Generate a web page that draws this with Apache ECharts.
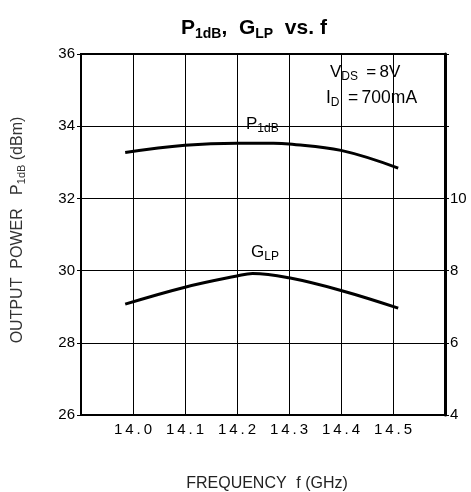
<!DOCTYPE html>
<html>
<head>
<meta charset="utf-8">
<script src="https://cdn.jsdelivr.net/npm/echarts@6/dist/echarts.min.js"></script>
<style>
  html, body { margin: 0; padding: 0; background: #fff; }
  #main { width: 471px; height: 492px; }
</style>
</head>
<body>
<div id="main"></div>
<script>
// values
const freqTicks = ['14.0', '14.1', '14.2', '14.3', '14.4', '14.5'];
const p1dbFreq = [13.985, 14.1, 14.2, 14.27, 14.3, 14.4, 14.51];
const p1dbVal  = [33.27, 33.47, 33.53, 33.53, 33.51, 33.33, 32.84];   // dBm, left axis
const glpFreq  = [13.985, 14.1, 14.2, 14.23, 14.3, 14.4, 14.51];
const glpVal   = [7.07, 7.54, 7.85, 7.92, 7.80, 7.45, 6.96];          // dB, right axis
const rightTicks = [4, 6, 8, 10];

const font = '"Liberation Sans", Arial, sans-serif';

// rich text style for "X{sub}" labels
function subRich(big, small, drop) {
    return {
        n: { fontSize: big, fill: '#000', color: '#000', fontFamily: font, lineHeight: big + 4 },
        s: { fontSize: small, fill: '#000', color: '#000', fontFamily: font, lineHeight: big + 4, verticalAlign: 'bottom', padding: [drop, 0, 0, 0] }
    };
}

let chart = echarts.init(document.getElementById('main'));
let option = {
    backgroundColor: '#fff',
    animation: false,
    textStyle: { fontFamily: font },
    // title with subscripts (sits a bit right of centre in the original)
    title: {
        text: '{b|P}{s|1dB}{b|,  G}{s|LP}{b|  vs. f}',
        left: 176,
        top: 10,
        textStyle: {
            rich: {
                b: { fontSize: 21, fontWeight: 'bold', color: '#000', fontFamily: font, lineHeight: 26 },
                s: { fontSize: 14, fontWeight: 'bold', color: '#000', fontFamily: font, verticalAlign: 'bottom', lineHeight: 26, padding: [9, 0, 0, 0] }
            }
        }
    },
    grid: { left: 81, right: 26, top: 54, bottom: 77, outerBoundsMode: 'none' },
    xAxis: {
        type: 'value',
        min: 13.9,
        max: 14.6,
        interval: 0.1,
        name: 'FREQUENCY\u2009\u2009\u2009f (GHz)',
        nameLocation: 'middle',
        nameGap: 61,
        nameTextStyle: { fontSize: 16, color: '#222', fontFamily: font, padding: [0, 0, 0, 8] },
        axisLine: { show: true, lineStyle: { color: '#000', width: 2 } },
        axisTick: { show: false },
        splitLine: { show: true, lineStyle: { color: '#000', width: 1 } },
        axisLabel: {
            fontSize: 15, color: '#000', margin: 7, fontFamily: font,
            formatter: function (v) {
                let s = v.toFixed(1);
                return freqTicks.indexOf(s) >= 0 ? s.split('').join('\u2009') : '';
            }
        }
    },
    yAxis: [{
        type: 'value',
        min: 26, max: 36, interval: 2,
        position: 'left',
        axisLine: { show: true, lineStyle: { color: '#000', width: 2 } },
        axisTick: { show: true, length: 4, lineStyle: { color: '#000' } },
        splitLine: { show: true, lineStyle: { color: '#000', width: 1 } },
        axisLabel: { fontSize: 15, color: '#000', margin: 6, fontFamily: font }
    }, {
        type: 'value',
        min: 4, max: 14, interval: 2,
        position: 'right',
        axisLine: { show: true, lineStyle: { color: '#000', width: 3 } },
        axisTick: { show: true, length: 4, lineStyle: { color: '#000' } },
        splitLine: { show: false },
        axisLabel: {
            fontSize: 15, color: '#000', margin: 5, fontFamily: font,
            formatter: function (v) { return rightTicks.indexOf(v) >= 0 ? String(v) : ''; }
        }
    }],
    graphic: [
        // top border
        { type: 'line', shape: { x1: 80, y1: 54, x2: 446, y2: 54 }, style: { stroke: '#000', lineWidth: 2 } },
        // y axis name
        {
            type: 'text', x: 18, y: 230, rotation: Math.PI / 2,
            style: {
                text: '{n|OUTPUT  POWER   P}{s|1dB}{n| (dBm)}',
                align: 'center', verticalAlign: 'middle',
                rich: {
                    n: { fontSize: 16, fill: '#333', fontFamily: font, lineHeight: 18 },
                    s: { fontSize: 11, fill: '#333', fontFamily: font, lineHeight: 18, verticalAlign: 'bottom', padding: [4, 0, 0, 0] }
                }
            }
        },
        // conditions
        { type: 'text', x: 330, y: 62, style: { text: '{n|V}{s|DS}{n| \u2009=\u20098V}', rich: subRich(17, 12, 7) } },
        { type: 'text', x: 326, y: 87, style: { text: '{n|I}{s|D}{n| \u2009=\u2009700mA}', rich: subRich(17.5, 12, 7) } },
        // curve labels
        { type: 'text', x: 246, y: 114, style: { text: '{n|P}{s|1dB}', backgroundColor: '#fff', rich: subRich(17, 12, 6) } },
        { type: 'text', x: 251, y: 242, style: { text: '{n|G}{s|LP}', rich: subRich(17, 12, 6) } }
    ],
    series: [{
        name: 'P1dB',
        type: 'line',
        yAxisIndex: 0,
        smooth: 0.4,
        symbol: 'none',
        lineStyle: { color: '#000', width: 3 },
        data: p1dbFreq.map((f, i) => [f, p1dbVal[i]])
    }, {
        name: 'GLP',
        type: 'line',
        yAxisIndex: 1,
        smooth: 0.4,
        symbol: 'none',
        lineStyle: { color: '#000', width: 3 },
        data: glpFreq.map((f, i) => [f, glpVal[i]])
    }]
};
chart.setOption(option, true);
</script>
</body>
</html>
